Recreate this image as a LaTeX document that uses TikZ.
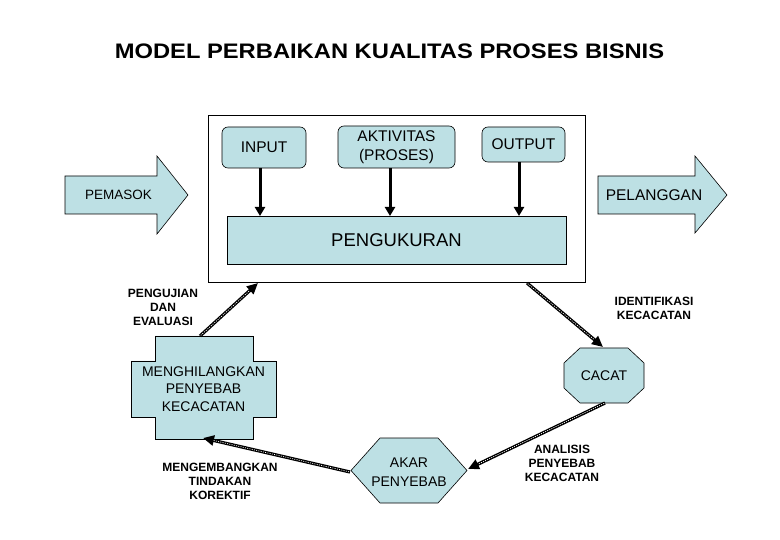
\documentclass[tikz,border=0pt]{standalone}
\usepackage{fontspec}
\setmainfont{Liberation Sans}
\usetikzlibrary{arrows.meta}
\definecolor{lb}{RGB}{189,224,228}
\begin{document}
\begin{tikzpicture}[x=1pt,y=-1pt,
  box/.style={draw=black, fill=lb, line width=0.6pt},
  tbox/.style={box, inner sep=0pt, align=center},
  ttl/.style={font=\fontsize{21}{24}\selectfont\bfseries},
  txa/.style={font=\fontsize{15.5}{19}\selectfont, align=center},
  txb/.style={font=\fontsize{14}{17.5}\selectfont, align=center},
  lbl/.style={font=\fontsize{12}{14}\selectfont\bfseries, align=center},
  down/.style={line width=3pt, -{Triangle[length=9pt,width=10pt]}},
  sarrow/.style={line width=3.2pt, -{Triangle[length=11pt,width=10pt]}},
  stripe/.style={white, line width=0.7pt, dash pattern=on 1pt off 1.3pt, shorten >=11pt, shorten <=1pt}
]
\useasboundingbox (0,0) rectangle (780,540);

% title
\node[ttl] (title) at (389.5,51.5) {\scalebox{1.13}[1]{MODEL PERBAIKAN KUALITAS PROSES BISNIS}};

% frame
\node[draw=black, line width=0.8pt, fill=white, minimum width=377pt, minimum height=167pt, inner sep=0pt] (frame) at (396.5,198.5) {};

% top boxes
\node[tbox, rounded corners=6pt, minimum width=84pt, minimum height=41pt, txa] (input) at (264,147.5) {INPUT};
\node[tbox, rounded corners=6pt, minimum width=117pt, minimum height=42pt, txa] (akt) at (396.5,147) {AKTIVITAS\\(PROSES)};
\node[tbox, rounded corners=6pt, minimum width=83pt, minimum height=35pt, txa] (output) at (523.5,144.5) {OUTPUT};
\node[tbox, minimum width=339pt, minimum height=48pt, font=\fontsize{18.5}{22}\selectfont] (peng) at (396.5,240) {PENGUKURAN};

\coordinate (d1s) at (260,168);   \coordinate (d1e) at (260,216);
\coordinate (d2s) at (390,168);   \coordinate (d2e) at (390,216);
\coordinate (d3s) at (519,162);   \coordinate (d3e) at (519,216);
\draw[down] (d1s) -- (d1e);
\draw[down] (d2s) -- (d2e);
\draw[down] (d3s) -- (d3e);

% block arrows
\draw[box] (65,176) -- (157,176) -- (157,156) -- (188,195) -- (157,234) -- (157,214) -- (65,214) -- cycle;
\node[font=\fontsize{13.5}{16}\selectfont] (pemasok) at (118.5,195) {PEMASOK};
\draw[box] (598,176) -- (695,176) -- (695,156) -- (727,195) -- (695,233) -- (695,214) -- (598,214) -- cycle;
\node[font=\fontsize{15.5}{18}\selectfont] (pelanggan) at (654,195) {PELANGGAN};

% cross
\draw[box] (155,336) -- (253,336) -- (253,361) -- (276,361) -- (276,417) -- (253,417) -- (253,439) -- (155,439) -- (155,417) -- (131,417) -- (131,361) -- (155,361) -- cycle;
\node[txb] (hilang) at (203.5,389) {MENGHILANGKAN\\PENYEBAB\\KECACATAN};

% octagon
\draw[box] (580,348) -- (628,348) -- (644,363) -- (644,388) -- (628,403) -- (580,403) -- (564,388) -- (564,363) -- cycle;
\node[txb] (cacat) at (604,375.5) {CACAT};

% hexagon
\draw[box] (380,438) -- (438,438) -- (467,470.5) -- (438,503) -- (380,503) -- (351,470.5) -- cycle;
\node[txb, font=\fontsize{14}{18.5}\selectfont] (akar) at (409,472) {AKAR\\PENYEBAB};

% cycle arrows
\coordinate (a1s) at (200,336); \coordinate (a1e) at (258,283);
\coordinate (a2s) at (527,283); \coordinate (a2e) at (603,347);
\coordinate (a3s) at (605,403); \coordinate (a3e) at (468,469);
\coordinate (a4s) at (350,472); \coordinate (a4e) at (203,438);
\foreach \s/\e in {a1s/a1e, a2s/a2e, a3s/a3e, a4s/a4e} {
  \draw[sarrow] (\s) -- (\e);
  \draw[stripe] (\s) -- (\e);
}

% labels
\node[lbl] (l1) at (163,307.5) {PENGUJIAN\\DAN\\EVALUASI};
\node[lbl] (l2) at (654,308.5) {IDENTIFIKASI\\KECACATAN};
\node[lbl] (l3) at (562,463) {ANALISIS\\PENYEBAB\\KECACATAN};
\node[lbl] (l4) at (220,481) {MENGEMBANGKAN\\TINDAKAN\\KOREKTIF};
\end{tikzpicture}
\end{document}
